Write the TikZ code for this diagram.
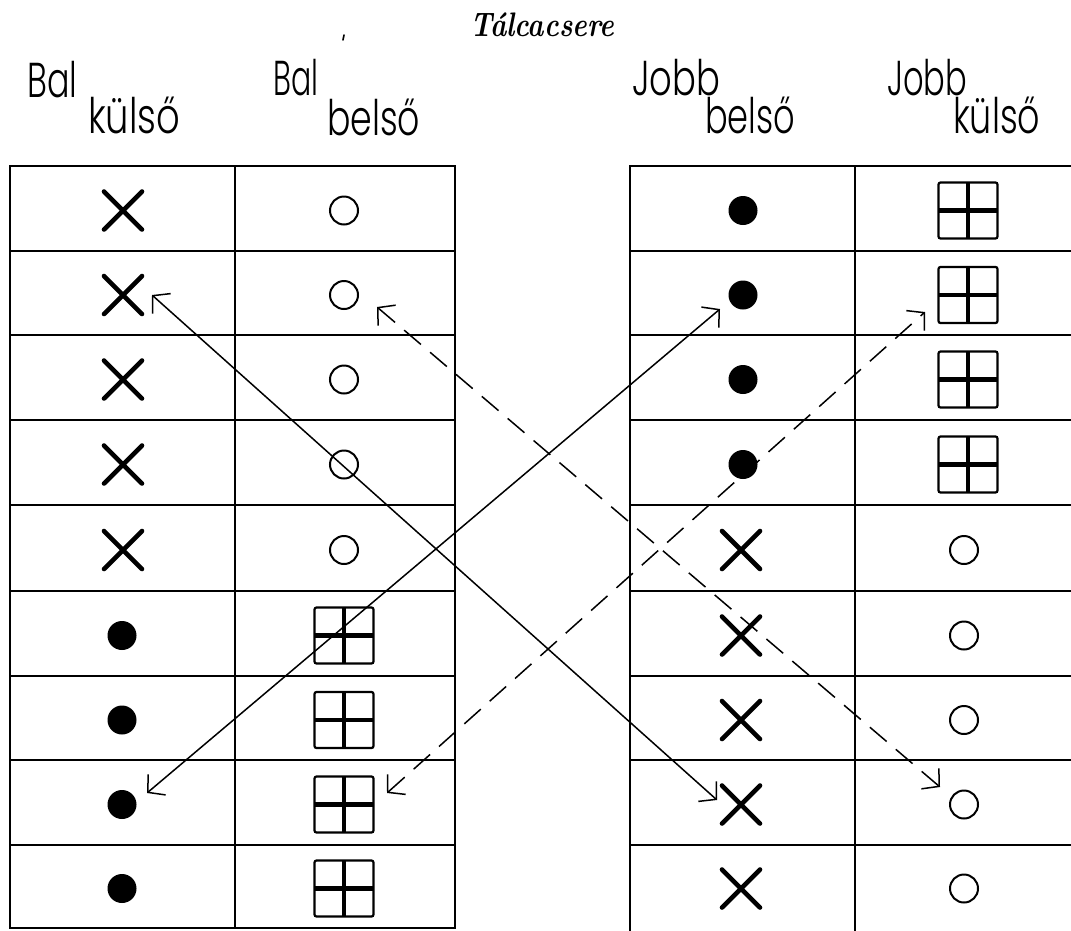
\documentclass[tikz,border=0pt]{standalone}
\usepackage{fontspec}
\usetikzlibrary{arrows.meta,shapes.misc}

\newfontfamily\handfont{Poppins Light}

% lettering of the column heads, squeezed to a given width
\newcommand{\headword}[2]{\resizebox{#1pt}{\height}{\fontsize{49}{56}\selectfont\handfont #2}}

\tikzset{
  rule/.style={line width=1.8pt},
  xmark/.style={cross out, draw, minimum size=38, line width=4.6, line cap=round, inner sep=0pt, outer sep=0pt},
  ring/.style={circle, draw, minimum size=28, line width=2, inner sep=0pt},
  blob/.style={circle, fill, minimum size=29, inner sep=0pt},
  pane/.style={rectangle, draw, minimum width=59, minimum height=56, line width=2.2,
    rounded corners=2, inner sep=0pt,
    path picture={\draw[line width=4.5pt]
      (path picture bounding box.north) -- (path picture bounding box.south)
      (path picture bounding box.west) -- (path picture bounding box.east);}},
  head/.style={anchor=base west, inner sep=0pt},
  swap/.style={{Straight Barb[length=12pt,width=27pt]}-{Straight Barb[length=12pt,width=27pt]}, line width=1.5pt},
  swapdash/.style={swap, dash pattern=on 22pt off 12pt}
}

\begin{document}
\begin{tikzpicture}[x=1pt, y=-1pt]
  \useasboundingbox (0,0) rectangle (1071,930);
  \fill[white] (0,0) rectangle (1071,930);

  % title and column heads
  \node[head] (title) at (470,36) {\resizebox{144pt}{\height}{\fontsize{34}{38}\selectfont\bfseries\itshape Tálcacsere}};
  \draw[line width=1.6pt, line cap=round] (344,35) -- (343,40);

  \node[head] (h1a) at (27,97)  {\headword{50}{Bal}};
  \node[head] (h1b) at (88,133) {\headword{92}{külső}};
  \node[head] (h2a) at (273,95) {\headword{45}{Bal}};
  \node[head] (h2b) at (327,135){\headword{93}{belső}};
  \node[head] (h3a) at (632,95) {\headword{88}{Jobb}};
  \node[head] (h3b) at (705,133){\headword{90}{belső}};
  \node[head] (h4a) at (887,95) {\headword{80}{Jobb}};
  \node[head] (h4b) at (953,133){\headword{87}{külső}};

  % left tray
  \draw[rule] (10,166) rectangle (455,928);
  \draw[rule] (235,166) -- (235,928);
  \foreach \y in {251,335,420,505,591,676,760,845}
    \draw[rule] (10,\y) -- (455,\y);

  % right tray, open towards the right margin
  \draw[rule] (1080,166) -- (630,166) -- (630,935);
  \draw[rule] (855,166) -- (855,935);
  \foreach \y in {251,335,420,505,591,676,760,845}
    \draw[rule] (630,\y) -- (1080,\y);

  % left tray: five rows of X and O, then four of dots and windows
  \foreach \i/\y in {1/210.5,2/295,3/379.5,4/464.5,5/550} {
    \node[xmark] (lo\i) at (123,\y) {};
    \node[ring]  (li\i) at (344,\y) {};
  }
  \foreach \i/\y in {6/635.5,7/720,8/804.5,9/888.5} {
    \node[blob]  (lo\i) at (122,\y) {};
    \node[pane]  (li\i) at (344,\y) {};
  }
  % right tray: four rows of dots and windows, then five of X and O
  \foreach \i/\y in {1/210.5,2/295,3/379.5,4/464.5} {
    \node[blob]  (ri\i) at (743,\y) {};
    \node[pane]  (ro\i) at (968,\y) {};
  }
  \foreach \i/\y in {5/550,6/635.5,7/720,8/804.5,9/888.5} {
    \node[xmark] (ri\i) at (741,\y) {};
    \node[ring]  (ro\i) at (964,\y) {};
  }

  % exchange arrows
  \coordinate (a1) at (152,295);  \coordinate (a2) at (717,800);
  \coordinate (b1) at (147,793);  \coordinate (b2) at (720,309);
  \coordinate (c1) at (377,307);  \coordinate (c2) at (940,787);
  \coordinate (d1) at (387,793);  \coordinate (d2) at (925,312);
  \draw[swap] (a1) -- (a2);
  \draw[swap] (b1) -- (b2);
  \draw[swapdash] (c1) -- (c2);
  \draw[swapdash] (d1) -- (d2);
\end{tikzpicture}
\end{document}
